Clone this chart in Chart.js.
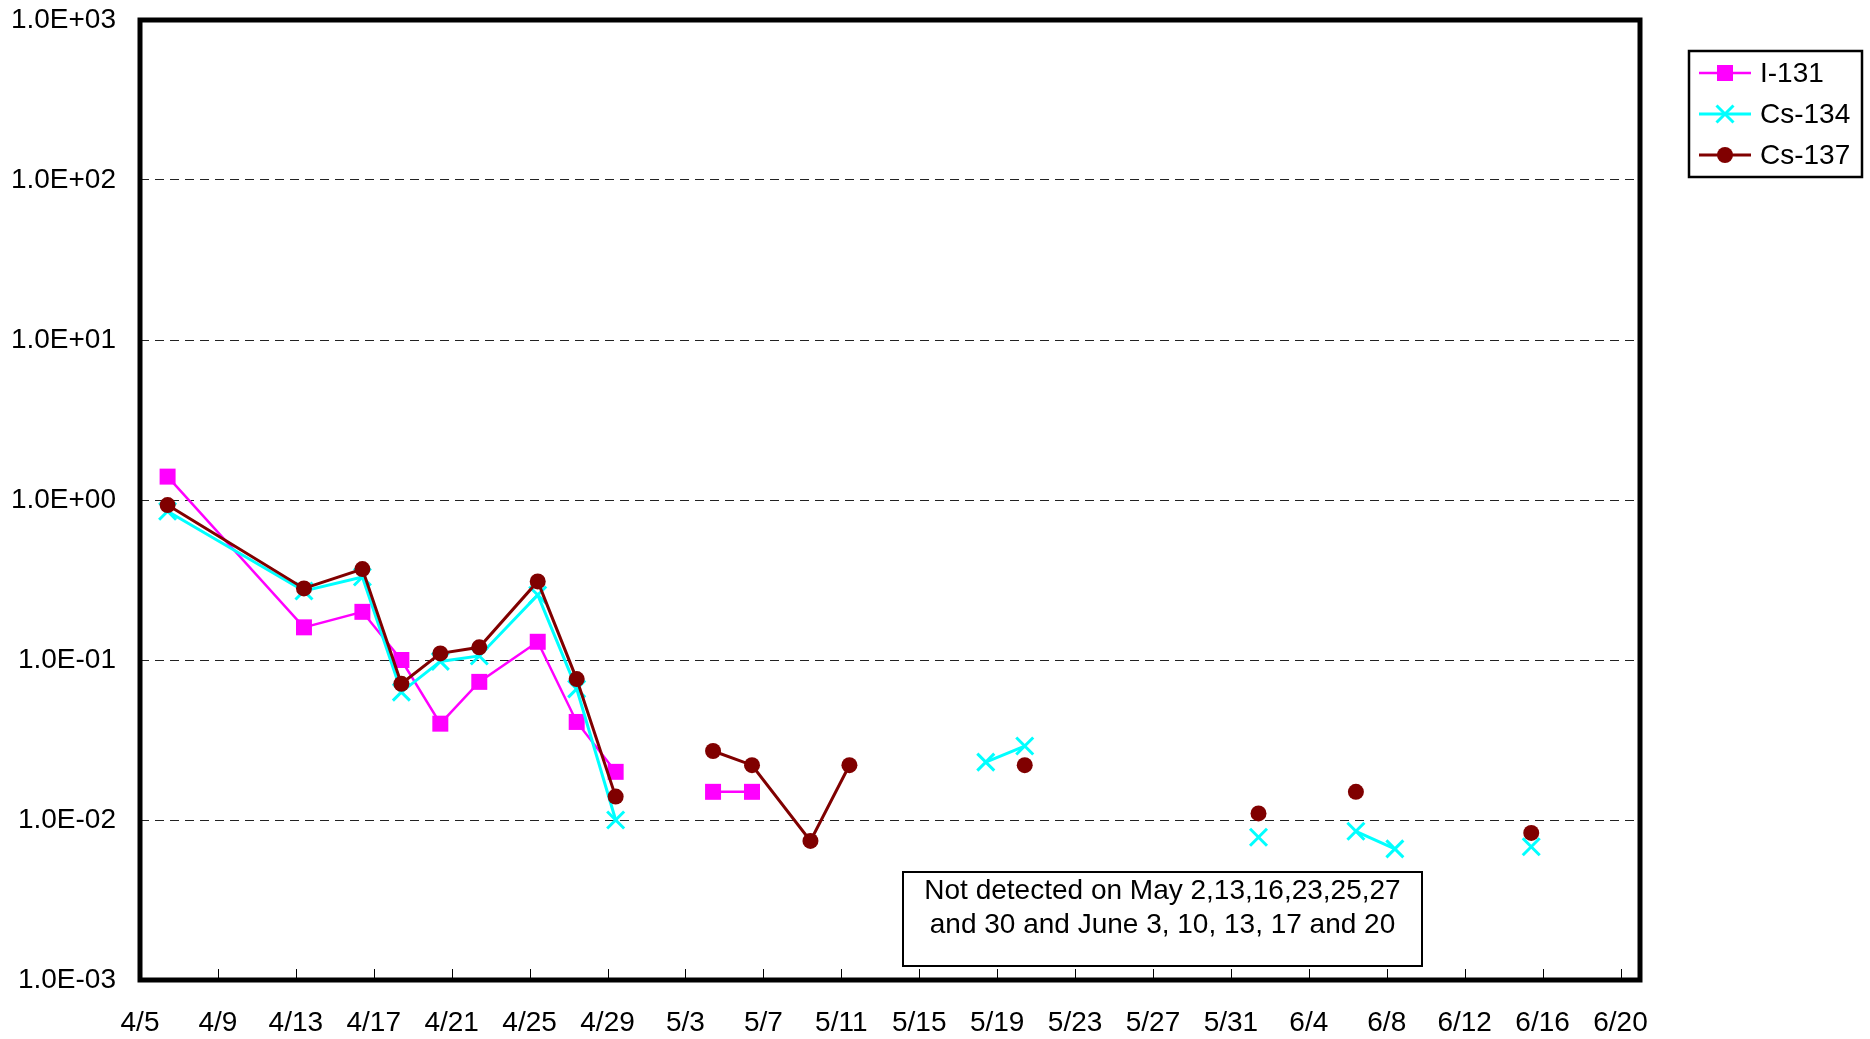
<!DOCTYPE html>
<html lang="en">
<head>
  <meta charset="UTF-8" />
  <title>I-131 / Cs-134 / Cs-137</title>
  <script src="https://cdn.jsdelivr.net/npm/chart.js@4"></script>
  <style>
    html, body { margin: 0; padding: 0; background: #fff; }
    #wrap { width: 1870px; height: 1039px; }
  </style>
</head>
<body>
  <div id="wrap"><canvas id="grafik" width="1870" height="1039"></canvas></div>

  <script>
    // sampling dates (rows), null = not detected
    const year = 2011;
    const sampleHour = 10;
    const sampleDates = ['4/6', '4/13', '4/16', '4/18', '4/20', '4/22', '4/25', '4/27', '4/29',
      '5/2', '5/4', '5/6', '5/9', '5/11', '5/13', '5/16', '5/18', '5/20', '5/23', '5/25', '5/27', '5/30',
      '6/1', '6/3', '6/6', '6/8', '6/10', '6/13', '6/15', '6/17', '6/20'];
    const i131 = [1.4, 0.16, 0.20, 0.10, 0.040, 0.073, 0.13, 0.041, 0.020,
      null, 0.015, 0.015, null, null, null, null, null, null, null, null, null, null,
      null, null, null, null, null, null, null, null, null];
    const cs134 = [0.85, 0.27, 0.33, 0.063, 0.098, 0.106, 0.255, 0.066, 0.010,
      null, null, null, null, null, null, null, 0.023, 0.029, null, null, null, null,
      0.0078, null, 0.0085, 0.0066, null, null, 0.0068, null, null];
    const cs137 = [0.93, 0.28, 0.37, 0.071, 0.11, 0.12, 0.31, 0.076, 0.014,
      null, 0.027, 0.022, 0.0074, 0.022, null, null, null, 0.022, null, null, null, null,
      0.011, null, 0.015, null, null, null, 0.0083, null, null];

    const xFirst = '4/5';
    const xLast = '6/21';
    const xStepDays = 4;
    const yTicks = [1e-3, 1e-2, 1e-1, 1, 10, 100, 1000];
    const noteLines = ['Not detected on May 2,13,16,23,25,27', 'and 30 and June 3, 10, 13, 17 and 20'];

    const FONT = "'Liberation Sans', Arial, sans-serif";

    function toUTC(md) {
      const [m, d] = md.split('/').map(Number);
      return Date.UTC(year, m - 1, d);
    }
    const t0 = toUTC(xFirst);
    const dayOf = md => (toUTC(md) - t0) / 864e5;

    function titikSeri(vals) {
      return sampleDates.map((d, i) => ({ x: dayOf(d) + sampleHour / 24, y: vals[i] }));
    }

    function labelTanggal(v) {
      const d = new Date(t0 + v * 864e5);
      return (d.getUTCMonth() + 1) + '/' + d.getUTCDate();
    }

    function labelEksponen(v) {
      const e = Math.round(Math.log10(v));
      return '1.0E' + (e < 0 ? '-' : '+') + String(Math.abs(e)).padStart(2, '0');
    }

    // frame, inner tick marks, legend and note box
    const hiasan = {
      id: 'hiasan',
      afterDraw(chart) {
        const { ctx, chartArea: a, scales } = chart;
        ctx.save();

        // tick marks pointing into the plot
        ctx.strokeStyle = '#000';
        ctx.lineWidth = 1;
        scales.x.ticks.forEach(t => {
          const px = Math.round(scales.x.getPixelForValue(t.value)) + 0.5;
          ctx.beginPath();
          ctx.moveTo(px, a.bottom);
          ctx.lineTo(px, a.bottom - 11);
          ctx.stroke();
        });

        // plot frame
        ctx.lineWidth = 5;
        ctx.strokeRect(a.left, a.top, a.right - a.left, a.bottom - a.top);

        // legend
        const lx = 1689, ly = 51, lw = 173, lh = 126;
        ctx.fillStyle = '#fff';
        ctx.fillRect(lx, ly, lw, lh);
        ctx.lineWidth = 2.5;
        ctx.strokeStyle = '#000';
        ctx.strokeRect(lx, ly, lw, lh);
        ctx.font = '28px ' + FONT;
        ctx.textBaseline = 'middle';
        ctx.textAlign = 'left';
        chart.data.datasets.forEach((ds, i) => {
          const cy = ly + 22 + i * 41;
          ctx.strokeStyle = ds.borderColor;
          ctx.lineWidth = ds.borderWidth;
          ctx.beginPath();
          ctx.moveTo(lx + 10, cy);
          ctx.lineTo(lx + 62, cy);
          ctx.stroke();
          ctx.fillStyle = ds.pointBackgroundColor;
          ctx.strokeStyle = ds.pointBorderColor;
          ctx.lineWidth = ds.pointBorderWidth;
          Chart.helpers.drawPoint(ctx, { pointStyle: ds.pointStyle, radius: ds.pointRadius, borderWidth: ds.pointBorderWidth }, lx + 36, cy);
          ctx.fillStyle = '#000';
          ctx.fillText(ds.label, lx + 71, cy + 1);
        });

        // note box
        const bx = 903, by = 872, bw = 519, bh = 94;
        ctx.fillStyle = '#fff';
        ctx.fillRect(bx, by, bw, bh);
        ctx.strokeStyle = '#000';
        ctx.lineWidth = 2;
        ctx.strokeRect(bx, by, bw, bh);
        ctx.fillStyle = '#000';
        ctx.textAlign = 'center';
        ctx.font = '28px ' + FONT;
        noteLines.forEach((s, i) => ctx.fillText(s, bx + bw / 2, by + 19 + i * 34));

        ctx.restore();
      }
    };

    const ctx = document.getElementById('grafik').getContext('2d');
    const chart = new Chart(ctx, {
      type: 'line',
      data: {
        datasets: [
          {
            label: 'I-131', data: titikSeri(i131), order: 2,
            borderColor: '#ff00ff', borderWidth: 2.5,
            pointStyle: 'rect', pointRadius: 11.3, pointBackgroundColor: '#ff00ff',
            pointBorderColor: '#ff00ff', pointBorderWidth: 0
          },
          {
            label: 'Cs-134', data: titikSeri(cs134), order: 1,
            borderColor: '#00ffff', borderWidth: 3,
            pointStyle: 'crossRot', pointRadius: 12, pointBackgroundColor: '#00ffff',
            pointBorderColor: '#00ffff', pointBorderWidth: 3
          },
          {
            label: 'Cs-137', data: titikSeri(cs137), order: 0,
            borderColor: '#800000', borderWidth: 3,
            pointStyle: 'circle', pointRadius: 8, pointBackgroundColor: '#800000',
            pointBorderColor: '#800000', pointBorderWidth: 0
          }
        ]
      },
      options: {
        responsive: false,
        animation: false,
        devicePixelRatio: 1,
        spanGaps: false,
        layout: { padding: { left: 0, top: 20, right: 230, bottom: 0 } },
        plugins: { legend: { display: false }, tooltip: { enabled: false } },
        elements: { line: { tension: 0 }, point: { hoverRadius: 0 } },
        scales: {
          x: {
            type: 'linear',
            min: 0,
            max: dayOf(xLast),
            afterFit: s => {
              s.height = 59;
              s.paddingLeft = 0;
              s.paddingRight = 0;
            },
            border: { display: false },
            grid: { display: false },
            ticks: {
              stepSize: xStepDays,
              includeBounds: false,
              autoSkip: false,
              maxRotation: 0,
              padding: 18,
              color: '#000',
              font: { family: FONT, size: 28 },
              callback: v => labelTanggal(v)
            }
          },
          y: {
            type: 'logarithmic',
            min: yTicks[0],
            max: yTicks[yTicks.length - 1],
            afterFit: s => {
              s.width = 140;
              s.paddingTop = 0;
              s.paddingBottom = 0;
            },
            afterBuildTicks: s => { s.ticks = yTicks.map(v => ({ value: v })); },
            border: { display: false, dash: [9, 6] },
            grid: {
              color: '#222',
              lineWidth: 1,
              drawTicks: false
            },
            ticks: {
              padding: 24,
              color: '#000',
              font: { family: FONT, size: 28 },
              callback: v => labelEksponen(v)
            }
          }
        }
      },
      plugins: [hiasan]
    });
  </script>
</body>
</html>
